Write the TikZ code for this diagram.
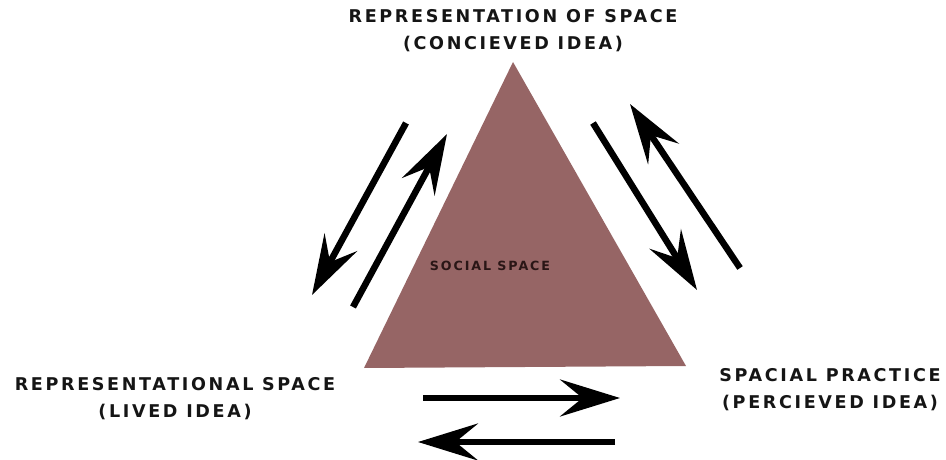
\documentclass[tikz,border=0pt]{standalone}
\usepackage{fontspec}
\setmainfont{DejaVu Sans}[LetterSpace=15]
\usetikzlibrary{arrows.meta,positioning}
\definecolor{Ink}{HTML}{151515}
\definecolor{Mauve}{HTML}{966565}
\definecolor{MauveInk}{HTML}{2A1616}
\tikzset{
  label/.style={text=Ink,font=\bfseries\fontsize{10}{15.4}\selectfont,align=center,inner sep=0pt},
  inlabel/.style={text=MauveInk,font=\bfseries\fontsize{7.2}{9}\selectfont,align=center,inner sep=0pt},
  tri/.style={fill=Mauve},
  flow/.style={-{Stealth[length=1.2cm,width=.74cm,inset=.45cm]},draw=black,line width=3.7pt}
}
\begin{document}
\begin{tikzpicture}
    \useasboundingbox (0,0) rectangle (18.92,9.18);
    % triangle
    \coordinate (apex) at (10.26,7.94);
    \coordinate (lft) at (7.28,1.82);
    \coordinate (rgt) at (13.72,1.86);
    \fill[tri] (apex) -- (lft) -- (rgt) -- cycle;
    \node[inlabel] (social) at (9.8,3.86) {SOCIAL SPACE};
    % corner labels
    \node[label] (conceived) at (10.26,8.56) {REPRESENTATION OF SPACE\\(CONCIEVED IDEA)};
    \node[label] (lived) at (3.5,1.21) {REPRESENTATIONAL SPACE\\(LIVED IDEA)};
    \node[label] (perceived) at (16.6,1.38) {SPACIAL PRACTICE\\(PERCIEVED IDEA)};
    % arrow ends
    \coordinate (l1s) at (8.12,6.72);
    \coordinate (l1e) at (6.24,3.28);
    \coordinate (l2s) at (7.06,3.04);
    \coordinate (l2e) at (8.94,6.50);
    \coordinate (r1s) at (11.86,6.72);
    \coordinate (r1e) at (13.94,3.38);
    \coordinate (r2s) at (14.80,3.82);
    \coordinate (r2e) at (12.60,7.10);
    \coordinate (b1s) at (8.46,1.22);
    \coordinate (b1e) at (12.40,1.22);
    \coordinate (b2s) at (12.30,0.34);
    \coordinate (b2e) at (8.36,0.34);
    \draw[flow] (l1s) -- (l1e);
    \draw[flow] (l2s) -- (l2e);
    \draw[flow] (r1s) -- (r1e);
    \draw[flow] (r2s) -- (r2e);
    \draw[flow] (b1s) -- (b1e);
    \draw[flow] (b2s) -- (b2e);
\end{tikzpicture}
\end{document}
